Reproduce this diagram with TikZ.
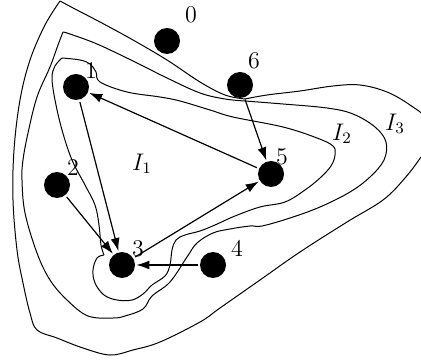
\documentclass[tikz,border=0pt]{standalone}
\usetikzlibrary{arrows.meta}
\begin{document}
\begin{tikzpicture}[x=0.5pt,y=-0.5pt,
  dot/.style={circle,fill=black,inner sep=0pt,minimum size=13pt},
  lbl/.style={inner sep=0pt,font=\fontsize{12}{14}\selectfont},
  flow/.style={line width=0.6pt,-{Latex[length=6.5pt,width=4.5pt]},shorten >=0.5pt,shorten <=1pt},
  contour/.style={line width=0.5pt,line join=round}]
\useasboundingbox (0,0) rectangle (421,362);
\clip (0,0) rectangle (421,362);
% outer region
\draw[contour] plot[smooth,tension=0.6] coordinates {(60,1) (75,9) (100,22) (133,40) (167,60) (200,82) (225,95) (245,99)};
\draw[contour] plot[smooth,tension=0.6] coordinates {(245,99) (267,95) (300,91) (333,86) (360,85) (387,92) (410,105) (428,120) (432,140) (421,157) (405,178) (383,200) (347,222) (300,252) (260,280) (220,308) (200,322) (160,342) (133,350) (110,355) (83,348) (57,338) (37,330) (30,313) (23,283) (17,250) (13,200) (14,150) (20,100) (30,60) (45,25) (60,1)};
% I3
\draw[contour] plot[smooth,tension=0.6] coordinates {(63,32) (70,34) (97,44) (133,61) (167,78) (200,93) (225,99) (245,101)};
\draw[contour] plot[smooth,tension=0.6] coordinates {(245,101) (283,104) (327,108) (353,114) (375,127) (386,142) (384,160) (370,177) (350,192) (320,207) (290,218) (262,226) (250,226) (230,229) (213,233) (197,243) (187,257) (170,282) (152,296) (143,309) (125,316) (113,318) (88,316) (67,300) (50,280) (37,253) (25,213) (22,180) (23,160) (28,133) (37,97) (50,67) (58,45) (63,32)};
% I2
\draw[contour] plot[smooth,tension=0.6] coordinates {(62,58) (55,66) (52,78) (55,100) (62,130) (72,160) (85,185) (95,205) (99,225) (101,245) (104,255)};
\draw[contour] plot[smooth,tension=0.6] coordinates {(104,255) (97,258) (93,270) (95,283) (104,295) (117,300) (132,300) (143,294) (152,285) (165,276) (170,265) (172,250) (176,240) (185,235) (200,231) (215,225) (235,216) (260,207) (285,202) (305,190) (320,178) (331,166) (335,155) (333,146) (317,138) (283,127) (233,117) (210,110) (180,101) (160,97) (127,92) (100,82) (96,72) (90,64) (80,60) (62,58)};
% nodes
\node[dot] (n0) at (167,41) {};
\node[dot] (n1) at (76,87) {};
\node[dot] (n2) at (57,185) {};
\node[dot] (n3) at (122,265) {};
\node[dot] (n4) at (213,265) {};
\node[dot] (n5) at (271,174) {};
\node[dot] (n6) at (240,85) {};
% labels
\node[lbl] (l0) at (191,15) {0};
\node[lbl] (l1) at (91,71) {1};
\node[lbl] (l2) at (73,168) {2};
\node[lbl] (l3) at (138,249) {3};
\node[lbl] (l4) at (237,248) {4};
\node[lbl] (l5) at (282,157) {5};
\node[lbl] (l6) at (254,61) {6};
\node[lbl] (i1) at (142,164) {$I_1$};
\node[lbl] (i2) at (342,134) {$I_2$};
\node[lbl] (i3) at (395,124) {$I_3$};
% flows
\draw[flow] (n5) -- (n1);
\draw[flow] (n1) -- (n3);
\draw[flow] (n2) -- (n3);
\draw[flow] (n3) -- (n5);
\draw[flow] (n4) -- (n3);
\draw[flow] (n6) -- (n5);
\end{tikzpicture}
\end{document}
